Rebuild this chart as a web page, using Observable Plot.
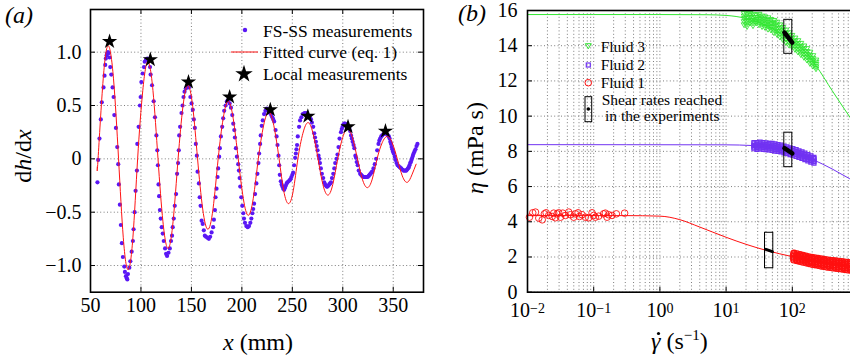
<!DOCTYPE html>
<html><head><meta charset="utf-8">
<script src="https://cdn.jsdelivr.net/npm/d3@7"></script>
<script src="https://cdn.jsdelivr.net/npm/@observablehq/plot@0.6"></script>
<style>
body{margin:0;overflow:hidden;background:#fff;}
#wrap{position:relative;width:850px;height:359px;overflow:hidden;background:#fff;font-family:"Liberation Serif",serif;}
#wrap svg{position:absolute;top:0;font-family:"Liberation Serif",serif;}
</style></head><body><div id="wrap"></div>
<script>
// ---------- panel (a) data ----------
const fsX = [56.9,57.6,58.9,60.2,61.2,62.9,63.9,64.6,65.2,66.0,66.6,67.3,67.9,68.9,69.6,70.6,71.9,72.9,73.6,75.2,76.5,77.5,
78.1,79.1,80.1,81.1,82.1,83.5,84.1,85.1,86.0,86.5,87.1,88.5,89.5,90.8,92.0,92.7,93.7,94.7,96.0,
96.4,97.7,99.0,99.7,100.4,101.7,103.0,103.7,105.0,106.3,107.6,109.0,109.6,111.0,112.6,113.9,115.3,116.2,
116.8,117.4,118.0,118.8,119.6,120.6,121.6,122.6,123.9,124.9,125.9,127.3,128.6,129.8,130.8,131.5,132.5,133.5,134.8,135.8,136.8,
137.5,137.9,138.8,140.2,141.2,142.2,143.2,144.5,146.2,147.5,149.0,150.2,151.4,152.4,153.4,154.4,155.4,
156.1,157.4,158.2,159.1,160.1,161.2,162.3,163.3,164.5,165.9,167.3,168.6,170.0,171.5,172.3,173.3,173.9,174.9,175.9,176.5,177.5,
178.2,179.2,180.5,181.5,182.5,183.9,185.2,186.5,187.9,189.2,190.5,191.5,192.5,193.1,194.1,195.1,
196.4,197.1,197.8,198.4,199.4,200.4,201.4,202.1,203.1,204.4,205.8,207.1,208.4,209.4,210.4,211.2,212.1,213.1,214.4,215.4,216.4,
217.1,218.1,218.7,219.7,220.7,222.0,223.3,224.7,226.0,227.2,228.0,229.1,230.2,231.1,232.0,233.4,234.4,235.3,236.3,
237.0,237.6,238.6,239.4,240.2,241.0,241.9,242.8,243.6,244.4,245.2,246.3,247.5,248.3,249.1,250.0,250.8,251.8,252.8,
253.5,254.1,254.7,255.4,256.7,257.7,259.0,260.4,262.0,263.7,265.4,266.5,267.7,268.5,269.4,270.7,271.7,272.5,273.4,274.2,275.0,276.0,276.7,
277.4,278.3,279.3,280.6,281.6,282.5,283.3,284.1,284.9,285.8,286.6,287.5,288.3,289.3,290.6,291.6,292.5,293.8,
294.8,295.8,296.8,298.2,299.0,299.8,300.6,301.5,302.3,303.2,304.0,304.8,305.7,306.5,307.3,308.2,309.0,309.8,310.7,311.5,312.5,313.1,
313.8,314.8,315.8,317.2,318.2,319.1,320.3,321.4,322.5,323.7,324.7,325.7,326.6,327.4,328.3,329.1,330.4,331.7,333.1,
334.1,335.4,336.2,337.1,338.1,339.1,340.2,341.4,342.5,343.7,344.7,345.7,346.4,347.1,347.8,348.4,349.1,349.7,350.5,351.5,352.2,
353.3,354.4,355.5,356.7,357.9,359.0,360.1,361.1,362.1,363.0,363.8,364.6,365.4,366.1,366.8,367.5,368.1,368.8,369.5,370.2,371.1,372.1,373.1,374.0];
const fsY = [-0.22,-0.01,0.19,0.37,0.53,0.67,0.78,0.88,0.94,0.97,0.99,1.00,0.99,0.95,0.86,0.79,0.67,0.58,0.41,0.29,0.11,-0.05,
-0.24,-0.43,-0.62,-0.79,-0.92,-1.01,-1.06,-1.10,-1.12,-1.13,-1.08,-1.02,-0.96,-0.87,-0.77,-0.66,-0.50,-0.30,-0.11,
0.14,0.30,0.50,0.58,0.72,0.80,0.86,0.91,0.93,0.94,0.92,0.86,0.79,0.69,0.54,0.39,0.22,0.08,
-0.06,-0.24,-0.35,-0.48,-0.56,-0.64,-0.70,-0.77,-0.84,-0.89,-0.91,-0.88,-0.84,-0.77,-0.72,-0.64,-0.56,-0.44,-0.33,-0.14,-0.04,
0.08,0.22,0.30,0.43,0.50,0.58,0.63,0.66,0.68,0.67,0.58,0.52,0.46,0.37,0.29,0.14,0.03,
-0.12,-0.23,-0.36,-0.44,-0.58,-0.61,-0.67,-0.72,-0.73,-0.74,-0.75,-0.73,-0.69,-0.64,-0.57,-0.48,-0.36,-0.28,-0.17,-0.09,0.02,
0.10,0.21,0.30,0.38,0.45,0.50,0.54,0.55,0.52,0.48,0.41,0.33,0.27,0.20,0.10,0.02,
-0.05,-0.11,-0.18,-0.26,-0.36,-0.44,-0.51,-0.56,-0.60,-0.63,-0.64,-0.63,-0.60,-0.56,-0.51,-0.47,-0.42,-0.33,-0.23,-0.14,-0.04,
0.05,0.14,0.22,0.31,0.36,0.42,0.45,0.47,0.46,0.45,0.43,0.41,0.39,0.37,0.35,0.27,0.21,0.13,0.03,
-0.06,-0.15,-0.21,-0.24,-0.26,-0.28,-0.29,-0.27,-0.25,-0.23,-0.22,-0.21,-0.20,-0.19,-0.17,-0.15,-0.13,-0.06,0.01,
0.05,0.09,0.13,0.21,0.30,0.36,0.39,0.42,0.43,0.43,0.41,0.40,0.38,0.37,0.34,0.30,0.24,0.20,0.16,0.12,0.08,0.03,0.00,
-0.04,-0.09,-0.14,-0.18,-0.22,-0.24,-0.25,-0.26,-0.26,-0.25,-0.24,-0.23,-0.22,-0.18,-0.14,-0.09,-0.04,0.00,
0.04,0.11,0.19,0.25,0.28,0.30,0.32,0.33,0.33,0.32,0.32,0.31,0.30,0.29,0.26,0.22,0.19,0.16,0.13,0.10,0.03,0.01,
-0.03,-0.06,-0.11,-0.14,-0.15,-0.16,-0.17,-0.17,-0.17,-0.17,-0.17,-0.16,-0.15,-0.14,-0.13,-0.12,-0.09,-0.05,0.00,
0.08,0.14,0.17,0.19,0.21,0.22,0.23,0.24,0.24,0.23,0.22,0.21,0.19,0.16,0.14,0.11,0.09,0.07,0.05,0.02,-0.01,
-0.04,-0.06,-0.07,-0.08,-0.09,-0.10,-0.11,-0.11,-0.11,-0.11,-0.10,-0.09,-0.08,-0.06,-0.04,-0.03,-0.01,0.01,0.03,0.05,0.07,0.09,0.12,0.14];

const fitX = [56.7,57.5,62.6,67.7,72.8,77.8,82.5,87.2,92.0,96.7,101.8,106.8,111.9,116.9,121.8,126.8,131.8,136.8,141.6,146.4,151.3,156.1,
161.2,166.3,171.4,176.5,181.5,186.4,191.4,196.4,201.4,206.3,211.3,216.3,221.5,226.6,231.7,236.9,241.5,246.2,250.9,255.5,
260.5,265.5,270.5,275.5,280.3,285.2,290.1,295.0,299.9,304.7,309.6,314.5,319.4,324.3,329.2,334.0,339.0,344.0,349.0,354.0,359.0,364.0,368.5,372.7];
const fitY = [-0.075,0,0.75,1.06,0.75,0,-0.74,-1.04,-0.74,0,0.64,0.91,0.64,0,-0.59,-0.84,-0.59,0,0.49,0.69,0.49,0,
-0.47,-0.66,-0.47,0,0.38,0.54,0.38,0,-0.37,-0.53,-0.37,0,0.31,0.44,0.31,0,-0.30,-0.42,-0.30,0,
0.24,0.34,0.24,0,-0.24,-0.34,-0.24,0,0.20,0.28,0.20,0,-0.19,-0.27,-0.19,0,0.15,0.21,0.15,0,-0.16,-0.22,-0.15,-0.05];

const starX = [68.9,109.3,147.1,187.9,228.2,265.4,305.2,342.3];
const starY = [1.10,0.93,0.72,0.58,0.46,0.40,0.30,0.26];

const xTicksA = [50,100,150,200,250,300,350];
const xTickLabelsA = ["50","100","150","200","250","300","350"];
const yTicksA = [-1,-0.5,0,0.5,1];
const yTickLabelsA = ["\u22121.0","\u22120.5","0","0.5","1.0"];

// ---------- panel (b) data ----------
const curve3 = [[0.01,15.77],[1,15.77],[5,15.76],[10,15.72],[20,15.55],[40,15.15],[70,14.65],[100,14.3],[150,13.75],[230,12.85],[400,11.45],[740,9.95],[1000,9.25]];
const curve2 = [[0.01,8.38],[10,8.37],[25,8.33],[50,8.22],[100,8.0],[200,7.55],[400,7.0],[740,6.44],[1000,6.2]];
const curve1 = [[0.01,4.35],[0.3,4.35],[1,4.32],[2,4.12],[4,3.7],[10,3.12],[20,2.72],[40,2.38],[100,2.02],[200,1.8],[400,1.62],[740,1.47],[1000,1.42]];

const f3X = [18.7,20.7,23.0,25.5,28.4,31.5,34.9,38.7,43.0,47.7,52.9,58.8,65.2,72.4,80.3,89.1,98.9,110,122,135,150,166,185,205,228];
const f3Hi = [15.85,15.8,15.85,15.8,15.75,15.8,15.7,15.65,15.6,15.5,15.45,15.35,15.2,15.05,14.9,14.75,14.6,14.45,14.3,14.15,14.0,13.85,13.65,13.45,13.2];
const f3Q1 = [15.7,15.6,15.72,15.62,15.62,15.65,15.55,15.5,15.45,15.35,15.28,15.18,15.02,14.88,14.72,14.58,14.44,14.28,14.14,13.98,13.84,13.68,13.48,13.3,13.08];
const f3Mid = [15.55,15.4,15.6,15.45,15.5,15.5,15.4,15.35,15.3,15.2,15.1,15.0,14.85,14.7,14.55,14.4,14.28,14.12,13.98,13.82,13.68,13.52,13.32,13.15,12.95];
const f3Q3 = [15.38,15.25,15.45,15.3,15.4,15.35,15.25,15.2,15.12,15.05,14.92,14.82,14.68,14.52,14.38,14.22,14.12,13.96,13.82,13.66,13.52,13.36,13.16,13.0,12.82];
const f3Lo = [15.2,15.1,15.3,15.15,15.3,15.2,15.1,15.05,14.95,14.9,14.75,14.65,14.5,14.35,14.2,14.05,13.95,13.8,13.65,13.5,13.35,13.2,13.0,12.85,12.7];

const f2X = [26.4,29.3,32.6,36.1,40.1,44.5,49.4,54.8,60.8,67.5,74.9,83.1,92.3,102,114,126,140,155,172,191,212];
const f2Hi = [8.5,8.5,8.52,8.5,8.48,8.45,8.45,8.42,8.38,8.35,8.3,8.25,8.2,8.15,8.1,8.03,7.97,7.9,7.82,7.74,7.66];
const f2Q1 = [8.42,8.4,8.43,8.4,8.38,8.36,8.35,8.32,8.28,8.25,8.2,8.15,8.1,8.05,8.0,7.94,7.88,7.81,7.73,7.65,7.58];
const f2Mid = [8.33,8.3,8.34,8.31,8.29,8.27,8.25,8.22,8.19,8.16,8.11,8.06,8.01,7.96,7.91,7.85,7.78,7.72,7.64,7.57,7.5];
const f2Q3 = [8.24,8.21,8.25,8.22,8.2,8.18,8.15,8.12,8.1,8.06,8.02,7.97,7.92,7.87,7.82,7.76,7.69,7.62,7.55,7.48,7.42];
const f2Lo = [8.15,8.12,8.15,8.12,8.1,8.08,8.05,8.02,8.0,7.97,7.92,7.88,7.82,7.78,7.72,7.66,7.6,7.53,7.46,7.39,7.33];

const f1X = [106,118,131,145,161,178,198,220,244,271,300,333,370,411,456,506,561,623,691,767];
const f1Hi = [2.2,2.17,2.12,2.08,2.04,2.0,1.97,1.94,1.91,1.88,1.85,1.83,1.8,1.78,1.76,1.74,1.72,1.7,1.68,1.66];
const f1Q1 = [2.11,2.08,2.03,1.99,1.95,1.91,1.88,1.85,1.82,1.79,1.76,1.73,1.71,1.68,1.66,1.64,1.62,1.6,1.58,1.56];
const f1Mid = [2.02,1.98,1.94,1.9,1.86,1.82,1.78,1.75,1.72,1.69,1.66,1.63,1.61,1.58,1.56,1.54,1.52,1.5,1.48,1.46];
const f1Q3 = [1.94,1.89,1.85,1.81,1.77,1.73,1.69,1.66,1.63,1.6,1.57,1.54,1.52,1.49,1.47,1.45,1.43,1.4,1.38,1.36];
const f1Lo = [1.85,1.8,1.76,1.72,1.68,1.64,1.6,1.57,1.54,1.5,1.47,1.44,1.42,1.39,1.37,1.35,1.33,1.3,1.28,1.26];

const f1LowX = [0.0107,0.0120,0.0132,0.0148,0.0167,0.0180,0.0191,0.0209,0.0236,0.0249,0.0264,0.0280,0.0296,0.0315,0.0341,0.0374,0.0420,0.0445,0.0499,0.0530,0.0581,0.0608,0.0667,0.0748,0.0839,0.0944,0.100,0.106,0.119,0.141,0.150,0.159,0.168,0.189,0.220,0.293];
const f1LowY = [4.26,4.51,4.55,4.21,4.11,4.45,4.51,4.36,4.30,4.49,4.23,4.45,4.51,4.26,4.49,4.36,4.55,4.40,4.26,4.45,4.51,4.30,4.40,4.26,4.23,4.51,4.36,4.26,4.32,4.45,4.49,4.26,4.40,4.36,4.45,4.49];

const blackSeg3 = [[76,14.75],[100,14.18]];
const blackSeg2 = [[76,8.18],[100,7.88]];
const blackSeg1 = [[40,2.43],[50,2.3]];
const boxes = [[75.7,100,13.54,15.47],[75.7,100,7.1,9.06],[38.7,51.6,1.36,3.375]];

const xTicksB = [0.01,0.1,1,10,100];
const xTickExpB = ["\u22122","\u22121","0","1","2"];
const decadesB = [0.01,0.1,1,10,100];
const multB = [1,2,3,4,5,6,7,8,9];
const yTicksB = [0,2,4,6,8,10,12,14,16];

// ---------- styles ----------
const serif = "Liberation Serif, serif";
const purpleA = "#5a17f5", purpleB = "#7133f2", greenB = "#33e633", redB = "#ff1010";
const dotted = {stroke: "#7d7d7d", strokeOpacity: 1, strokeWidth: 1, strokeDasharray: "1,2.4"};

const fs = fsX.map((x, i) => ({x, y: fsY[i]}));
const fit = fitX.map((x, i) => ({x, y: fitY[i]}));
const stars = starX.map((x, i) => ({x, y: starY[i]}));

const A = Plot.plot({
  width: 430, height: 359, marginLeft: 90, marginRight: 7, marginTop: 9, marginBottom: 67.3,
  style: {fontFamily: serif, fontSize: "20px", color: "#000", background: "transparent"},
  x: {domain: [50, 380]},
  y: {domain: [-1.25, 1.4]},
  marks: [
    Plot.gridX(xTicksA, dotted),
    Plot.gridY(yTicksA, dotted),
    Plot.axisX({ticks: xTicksA, tickSize: 0, tickPadding: 6, label: null, tickFormat: d => xTickLabelsA[xTicksA.indexOf(d)]}),
    Plot.axisY({ticks: yTicksA, tickSize: 0, tickPadding: 9, label: null, tickFormat: d => yTickLabelsA[yTicksA.indexOf(d)]}),
    Plot.tickX(xTicksA, {x: d => d, insetTop: 277.7, stroke: "#000"}),
    Plot.tickX(xTicksA, {x: d => d, insetBottom: 277.7, stroke: "#000"}),
    Plot.tickY(yTicksA, {y: d => d, insetLeft: 328, stroke: "#000"}),
    Plot.tickY(yTicksA, {y: d => d, insetRight: 328, stroke: "#000"}),
    Plot.dot(fs, {x: "x", y: "y", r: 2.1, fill: purpleA, stroke: null}),
    Plot.line(fit, {x: "x", y: "y", stroke: "#ff1414", strokeWidth: 1, curve: "natural"}),
    Plot.dot(stars, {x: "x", y: "y", symbol: "star", r: 4.8, fill: "#000", stroke: null}),
    Plot.frame({stroke: "#000", strokeWidth: 1.6})
  ]
});
A.style.left = "0px";

const triDown = {draw(ctx, size) { const h = Math.sqrt(size) * 0.62; ctx.moveTo(-h, -h * 0.6); ctx.lineTo(h, -h * 0.6); ctx.lineTo(0, h * 1.1); ctx.closePath(); }};
const rows = (X, ...R) => X.flatMap((x, i) => R.map(r => ({x, y: r[i]})));
const f3 = rows(f3X, f3Hi, f3Q1, f3Mid, f3Q3, f3Lo);
const f2 = rows(f2X, f2Hi, f2Q1, f2Mid, f2Q3, f2Lo);
const f1 = rows(f1X, f1Hi, f1Q1, f1Mid, f1Q3, f1Lo);
const f1Low = f1LowX.map((x, i) => ({x, y: f1LowY[i]}));
const minorB = decadesB.flatMap(d => multB.map(m => d * m));

const B = Plot.plot({
  width: 440, height: 359, marginLeft: 97, marginRight: 12, marginTop: 10, marginBottom: 67.3,
  style: {fontFamily: serif, fontSize: "20px", color: "#000", background: "transparent"},
  x: {type: "log", domain: [0.01, 1000]},
  y: {domain: [0, 16]},
  marks: [
    Plot.gridX(minorB, dotted),
    Plot.gridY(yTicksB, dotted),
    Plot.axisX({ticks: xTicksB, tickSize: 0, tickPadding: 11, label: null, tickFormat: d => xTickExpB[xTicksB.indexOf(d)]}),
    Plot.axisY({ticks: yTicksB, tickSize: 0, tickPadding: 10, label: null}),
    Plot.tickX(xTicksB, {x: d => d, insetTop: 276.7, stroke: "#000"}),
    Plot.tickY(yTicksB, {y: d => d, insetRight: 326, stroke: "#000"}),
    Plot.line(curve3, {x: "0", y: "1", stroke: greenB, strokeWidth: 1, curve: "monotone-x"}),
    Plot.line(curve2, {x: "0", y: "1", stroke: purpleB, strokeWidth: 1, curve: "monotone-x"}),
    Plot.line(curve1, {x: "0", y: "1", stroke: redB, strokeWidth: 1, curve: "monotone-x"}),
    Plot.dot(f3, {x: "x", y: "y", symbol: triDown, r: 2.6, fill: "none", stroke: greenB, strokeWidth: 0.9}),
    Plot.dot(f2, {x: "x", y: "y", symbol: "square2", r: 2.6, fill: "none", stroke: purpleB, strokeWidth: 1.2}),
    Plot.dot(f1, {x: "x", y: "y", r: 3.2, fill: "none", stroke: redB, strokeWidth: 1.3}),
    Plot.dot(f1Low, {x: "x", y: "y", r: 3.3, fill: "none", stroke: redB, strokeWidth: 0.9}),
    Plot.line(blackSeg3, {x: "0", y: "1", stroke: "#000", strokeWidth: 4.5}),
    Plot.line(blackSeg2, {x: "0", y: "1", stroke: "#000", strokeWidth: 4.5}),
    Plot.line(blackSeg1, {x: "0", y: "1", stroke: "#000", strokeWidth: 3}),
    Plot.rect(boxes, {x1: "0", x2: "1", y1: "2", y2: "3", fill: "none", stroke: "#000", strokeWidth: 1}),
    Plot.frame({stroke: "#000", strokeWidth: 1.6})
  ]
});
B.style.left = "430px";
d3.select(B).selectAll('g[aria-label="x-axis tick label"] text').each(function () {
  const e = this.textContent; const t = d3.select(this); t.text(null);
  t.append("tspan").text("10");
  t.append("tspan").attr("dy", "-0.35em").attr("font-size", "14px").text(e);
});

const wrap = document.getElementById("wrap");
wrap.appendChild(A);
wrap.appendChild(B);

// ---------- labels and legends ----------
const ov = d3.create("svg").attr("width", 850).attr("height", 359).style("left", "0px")
  .attr("font-family", serif).attr("fill", "#000");
ov.append("text").attr("x", 5).attr("y", 23).attr("font-size", 24).attr("font-style", "italic").text("(a)");
ov.append("text").attr("x", 458).attr("y", 21).attr("font-size", 24).attr("font-style", "italic").text("(b)");
const yl = ov.append("text").attr("transform", "translate(31,156) rotate(-90)").attr("text-anchor", "middle").attr("font-size", 24);
yl.append("tspan").text("d"); yl.append("tspan").attr("font-style", "italic").text("h");
yl.append("tspan").text("/d"); yl.append("tspan").attr("font-style", "italic").text("x");
const xl = ov.append("text").attr("x", 258).attr("y", 350).attr("text-anchor", "middle").attr("font-size", 24);
xl.append("tspan").attr("font-style", "italic").text("x"); xl.append("tspan").text(" (mm)");
const yl2 = ov.append("text").attr("transform", "translate(483,148) rotate(-90)").attr("text-anchor", "middle").attr("font-size", 24);
yl2.append("tspan").attr("font-style", "italic").text("\u03b7"); yl2.append("tspan").text(" (mPa s)");
const xl2 = ov.append("text").attr("x", 651).attr("y", 349).attr("font-size", 24);
xl2.append("tspan").attr("font-style", "italic").text("\u03b3"); xl2.append("tspan").text(" (s");
xl2.append("tspan").attr("dy", -9).attr("font-size", 15).text("\u22121");
xl2.append("tspan").attr("dy", 9).text(")");
ov.append("circle").attr("cx", 658.5).attr("cy", 333.5).attr("r", 1.6).attr("fill", "#000");

// legend (a)
const lg = ov.append("g").attr("font-size", 17.5);
lg.append("circle").attr("cx", 245).attr("cy", 30).attr("r", 2.2).attr("fill", purpleA);
lg.append("text").attr("x", 263).attr("y", 36.5).text("FS-SS measurements");
lg.append("line").attr("x1", 231).attr("x2", 258).attr("y1", 52).attr("y2", 52).attr("stroke", "#ff1414");
lg.append("text").attr("x", 263).attr("y", 58).text("Fitted curve (eq. 1)");
lg.append("path").attr("transform", "translate(244,74)").attr("d", d3.symbol(d3.symbolStar, Math.PI * 5.5 * 5.5)());
lg.append("text").attr("x", 263).attr("y", 79.5).text("Local measurements");

// legend (b)
const lb = ov.append("g").attr("font-size", 15.5);
lb.append("path").attr("transform", "translate(588.3,45.5)").attr("d", "M-3,-1.8L3,-1.8L0,3.3Z").attr("fill", "none").attr("stroke", greenB);
lb.append("text").attr("x", 600.7).attr("y", 51.7).text("Fluid 3");
lb.append("rect").attr("x", 586.3).attr("y", 63).attr("width", 4).attr("height", 4).attr("fill", "none").attr("stroke", purpleB).attr("stroke-width", 1.2);
lb.append("text").attr("x", 600.7).attr("y", 69.6).text("Fluid 2");
lb.append("circle").attr("cx", 588.3).attr("cy", 82.7).attr("r", 3.3).attr("fill", "none").attr("stroke", redB);
lb.append("text").attr("x", 600.7).attr("y", 87.5).text("Fluid 1");
lb.append("rect").attr("x", 585).attr("y", 96.7).attr("width", 6.7).attr("height", 25).attr("fill", "none").attr("stroke", "#000");
lb.append("circle").attr("cx", 588.3).attr("cy", 109).attr("r", 1.8).attr("fill", "#000");
lb.append("text").attr("x", 601.7).attr("y", 104.5).text("Shear rates reached");
lb.append("text").attr("x", 605).attr("y", 121).text("in the experiments");
wrap.appendChild(ov.node());
</script></body></html>
